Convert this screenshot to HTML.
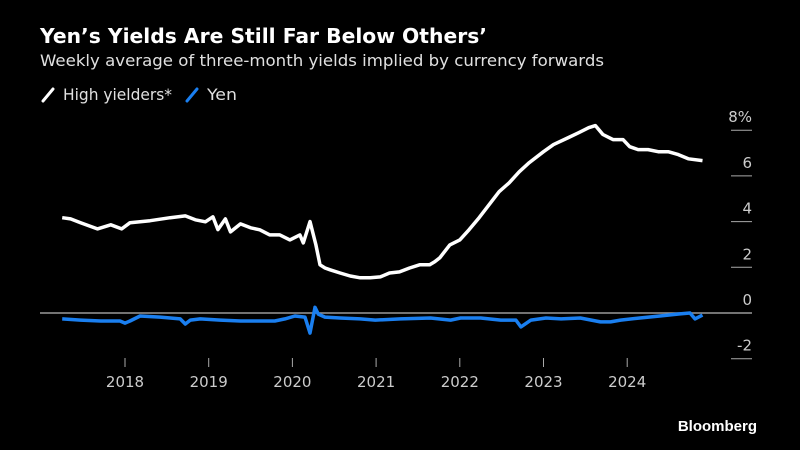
<!DOCTYPE html>
<html><head><meta charset="utf-8"><style>
body{margin:0;background:#000;width:800px;height:450px;overflow:hidden;font-family:"DejaVu Sans","Liberation Sans",sans-serif}
svg{display:block}
</style></head><body>
<svg width="800" height="450" viewBox="0 0 800 450">
<text x="40" y="43" fill="#fff" font-size="20" font-weight="bold" textLength="447" lengthAdjust="spacingAndGlyphs">Yen’s Yields Are Still Far Below Others’</text>
<text x="40" y="66" fill="#e0e0e0" font-size="16" textLength="564" lengthAdjust="spacingAndGlyphs">Weekly average of three-month yields implied by currency forwards</text>
<g>
<line x1="43" y1="101" x2="53" y2="89" stroke="#fff" stroke-width="3" stroke-linecap="round"/>
<text x="63" y="100" fill="#e0e0e0" font-size="16" textLength="109" lengthAdjust="spacingAndGlyphs">High yielders*</text>
<line x1="187" y1="101" x2="197" y2="89" stroke="#1a7ff0" stroke-width="3" stroke-linecap="round"/>
<text x="207" y="100" fill="#e0e0e0" font-size="16" textLength="30" lengthAdjust="spacingAndGlyphs">Yen</text>
</g>
<g id="axes"></g>
<g id="series"></g>
<text x="757" y="431" fill="#fff" font-size="15" font-weight="bold" text-anchor="end" font-family="Liberation Sans, sans-serif">Bloomberg</text>
</svg>
<script>
const hyDates=[2017.25,2017.35,2017.47,2017.67,2017.83,2017.96,2018.06,2018.30,2018.54,2018.72,2018.84,2018.96,2019.05,2019.11,2019.20,2019.26,2019.38,2019.50,2019.61,2019.73,2019.85,2019.97,2020.09,2020.13,2020.21,2020.28,2020.33,2020.39,2020.45,2020.57,2020.69,2020.81,2020.93,2021.05,2021.16,2021.28,2021.40,2021.52,2021.64,2021.70,2021.76,2021.88,2022.00,2022.11,2022.23,2022.35,2022.47,2022.59,2022.71,2022.83,2023.00,2023.12,2023.30,2023.42,2023.54,2023.62,2023.71,2023.83,2023.95,2024.03,2024.13,2024.25,2024.37,2024.49,2024.61,2024.73,2024.90];
const hyValues=[4.17,4.12,3.95,3.68,3.86,3.68,3.95,4.04,4.17,4.25,4.08,3.99,4.21,3.65,4.12,3.55,3.90,3.73,3.64,3.42,3.42,3.20,3.42,3.07,4.00,3.00,2.11,1.97,1.89,1.75,1.62,1.54,1.54,1.58,1.75,1.80,1.97,2.11,2.11,2.24,2.41,2.98,3.20,3.64,4.17,4.74,5.31,5.70,6.18,6.58,7.06,7.37,7.68,7.89,8.11,8.20,7.81,7.59,7.59,7.28,7.15,7.15,7.06,7.06,6.93,6.75,6.67];
const yenDates=[2017.25,2017.47,2017.71,2017.94,2018.00,2018.06,2018.18,2018.42,2018.66,2018.72,2018.78,2018.90,2019.14,2019.38,2019.61,2019.79,2019.91,2020.03,2020.15,2020.21,2020.27,2020.31,2020.39,2020.57,2020.81,2020.99,2021.29,2021.65,2021.89,2022.01,2022.25,2022.49,2022.67,2022.73,2022.85,2023.03,2023.21,2023.44,2023.68,2023.80,2023.92,2024.15,2024.39,2024.63,2024.75,2024.81,2024.90];
const yenValues=[-0.26,-0.31,-0.35,-0.35,-0.44,-0.35,-0.13,-0.18,-0.26,-0.48,-0.31,-0.26,-0.31,-0.35,-0.35,-0.35,-0.26,-0.13,-0.18,-0.88,0.25,-0.05,-0.18,-0.22,-0.26,-0.31,-0.26,-0.22,-0.31,-0.22,-0.22,-0.31,-0.31,-0.61,-0.31,-0.22,-0.26,-0.22,-0.39,-0.39,-0.31,-0.22,-0.13,-0.04,0.0,-0.26,-0.09];
const yTicks=[8,6,4,2,0,-2];
const yTickLabels=["8%","6","4","2","0","-2"];
const xTicks=[2018,2019,2020,2021,2022,2023,2024];
const xTickLabels=["2018","2019","2020","2021","2022","2023","2024"];

const NS="http://www.w3.org/2000/svg";
const xScale=d=>125+(d-2018)*83.7;
const yScale=v=>313-v*22.85;
function mk(tag,attrs,parent){const e=document.createElementNS(NS,tag);for(const k in attrs)e.setAttribute(k,attrs[k]);parent.appendChild(e);return e;}
const axes=document.getElementById('axes');
yTicks.forEach((v,i)=>{
  const y=yScale(v);
  const l=mk('line',{x1:v===0?40:731,x2:752,y1:y,y2:y,stroke:v===0?'#999':'#aaa','stroke-width':v===0?1.5:1},axes);
  
  
  const t=mk('text',{x:752,y:y-8,fill:'#ccc','font-size':15,'text-anchor':'end'},axes);
  t.textContent=yTickLabels[i];
  
  
});
xTicks.forEach((d,i)=>{
  const x=xScale(d);
  const l=mk('line',{x1:x,x2:x,y1:358,y2:367,stroke:'#aaa','stroke-width':1},axes);
  
  
  const t=mk('text',{x:x,y:387,fill:'#ccc','font-size':15,'text-anchor':'middle'},axes);
  t.textContent=xTickLabels[i];
  
  
});
const series=document.getElementById('series');
function line(ds,vs,color,name){
  const d=ds.map((x,i)=>(i?'L':'M')+xScale(x).toFixed(1)+','+yScale(vs[i]).toFixed(1)).join('');
  const p=mk('path',{d:d,fill:'none',stroke:color,'stroke-width':3.5,'stroke-linejoin':'round'},series);
  
  
}
line(yenDates,yenValues,'#1a7ff0','yen-line');
line(hyDates,hyValues,'#ffffff','high-yielders-line');
</script>
</body></html>
